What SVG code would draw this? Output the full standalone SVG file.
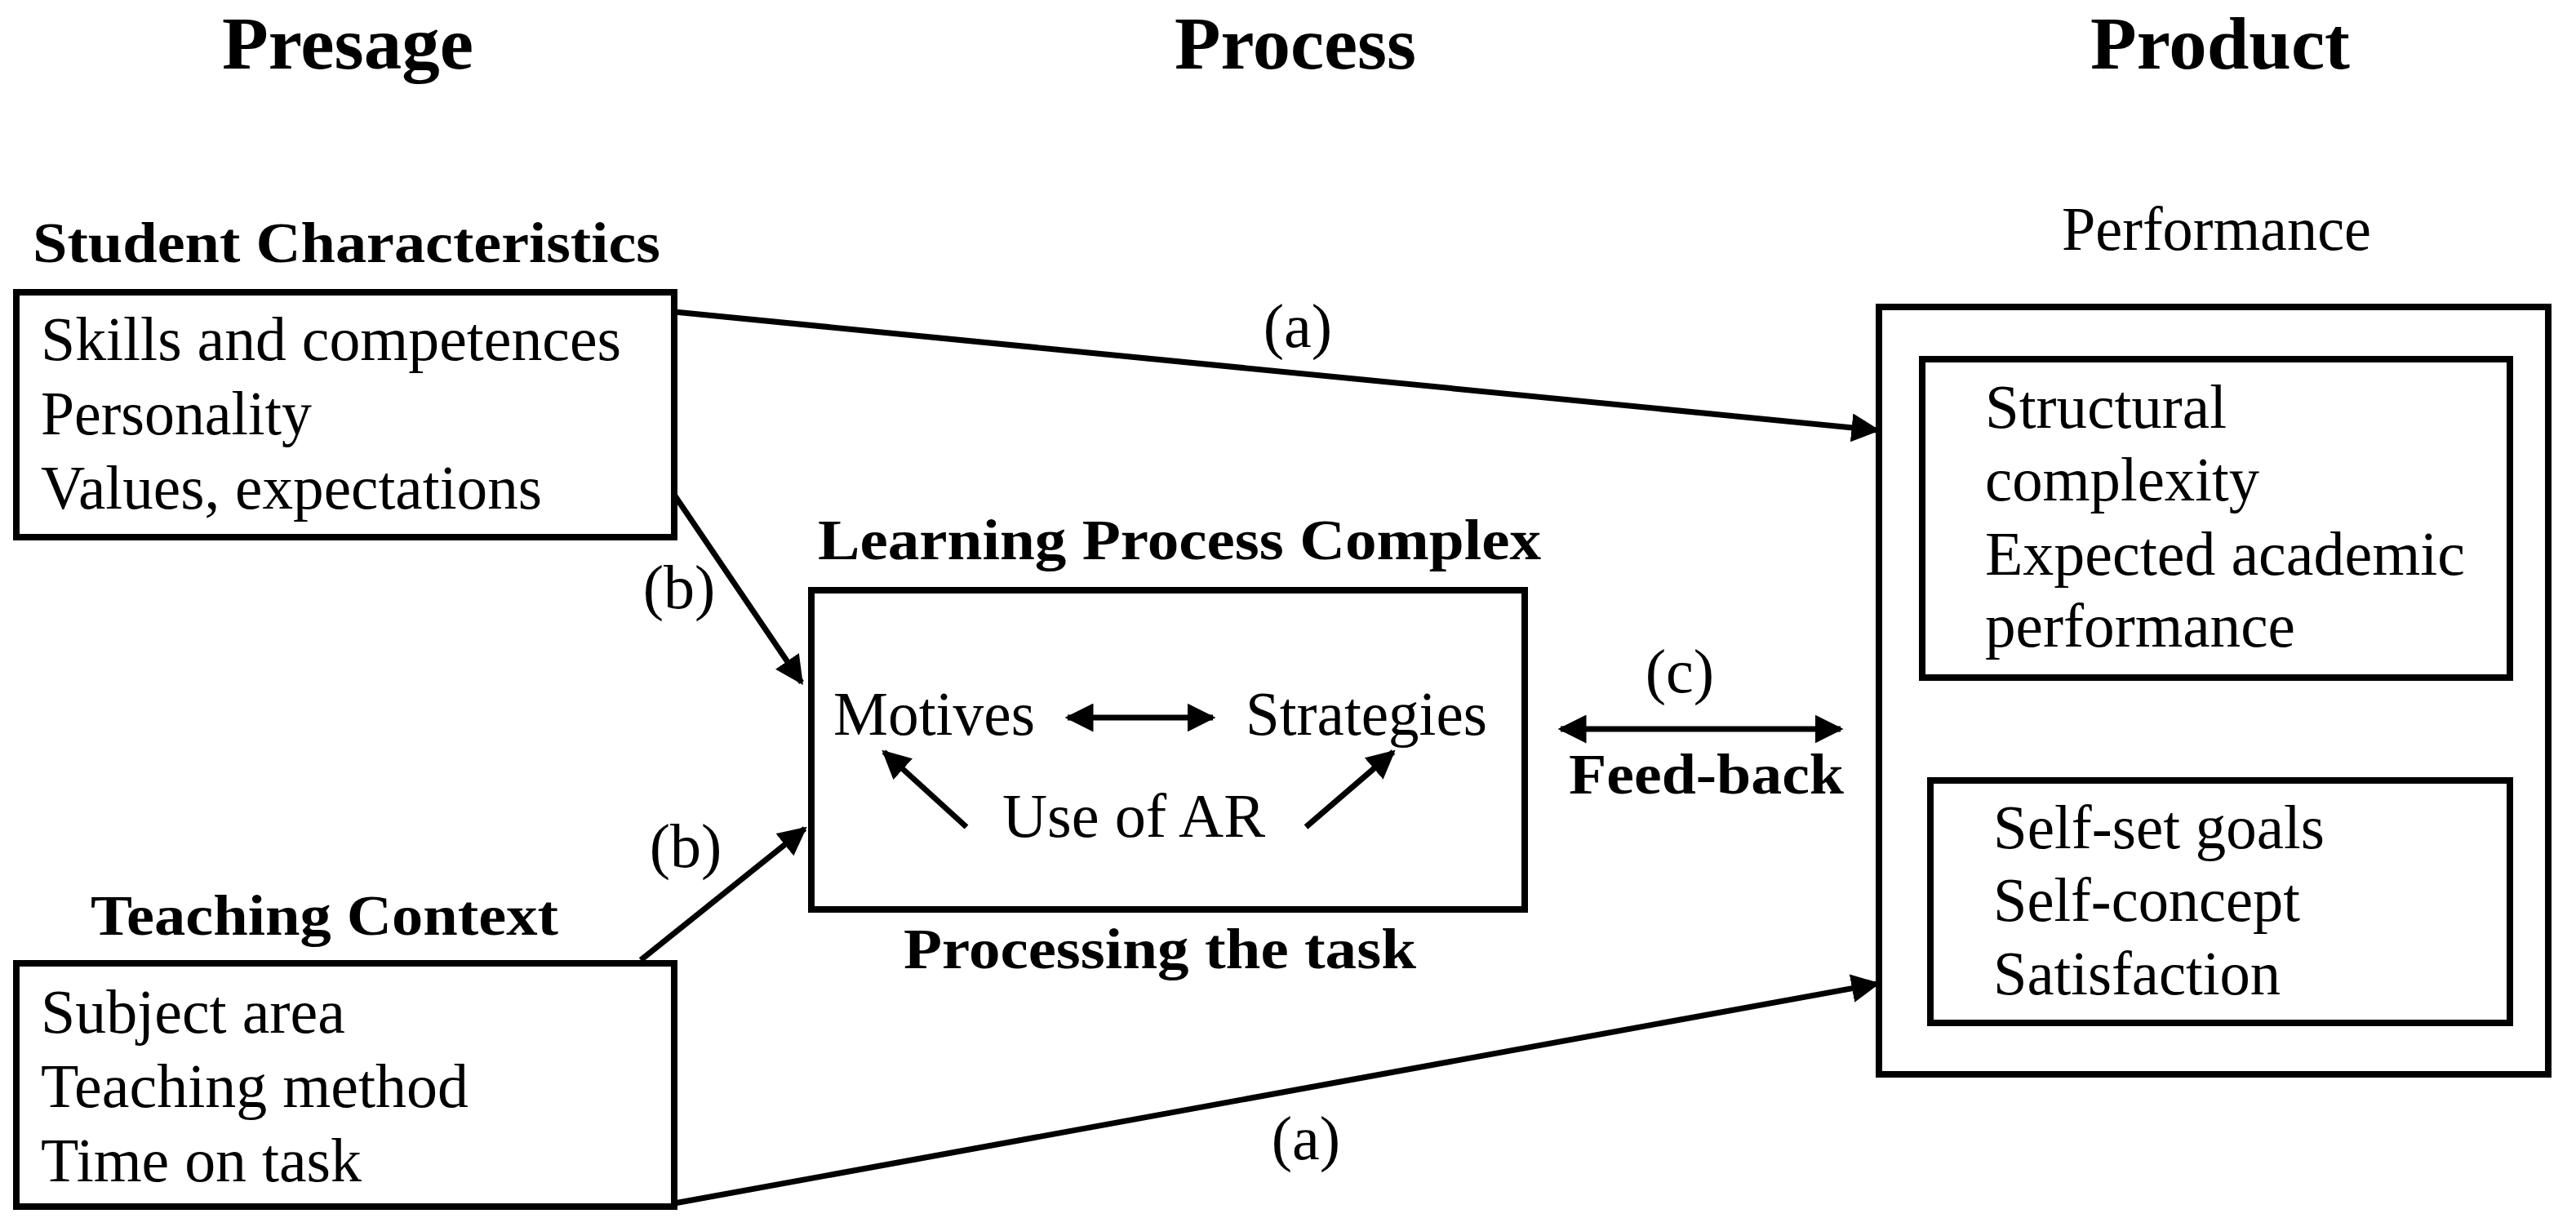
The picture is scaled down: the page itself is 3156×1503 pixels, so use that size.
<svg xmlns="http://www.w3.org/2000/svg" width="3156" height="1503" viewBox="0 0 3156 1503">
<style>
text{font-family:"Liberation Serif","Times New Roman",serif;fill:#000}
.h{font-size:92px;font-weight:bold}
.b{font-size:70px;font-weight:bold}
.t{font-size:76px}
.m{text-anchor:middle}
rect{fill:none;stroke:#000;stroke-width:8}
.c line{stroke:#000;stroke-width:7}
</style>
<defs>
<marker id="a" viewBox="0 0 10 10" refX="9" refY="5" markerWidth="5" markerHeight="5" orient="auto-start-reverse" markerUnits="strokeWidth">
<path d="M0,0 L10,5 L0,10 z" fill="#000"/>
</marker>
</defs>
<text class="h" x="272" y="84" textLength="308" lengthAdjust="spacingAndGlyphs">Presage</text>
<text class="h" x="1439" y="84" textLength="296" lengthAdjust="spacingAndGlyphs">Process</text>
<text class="h" x="2561" y="84" textLength="318" lengthAdjust="spacingAndGlyphs">Product</text>
<g id="student">
<text class="b" x="40" y="321" textLength="769" lengthAdjust="spacingAndGlyphs">Student Characteristics</text>
<rect x="20" y="358" width="806" height="300"/>
<text class="t" x="50" y="441" textLength="711" lengthAdjust="spacingAndGlyphs">Skills and competences</text>
<text class="t" x="50" y="532" textLength="332" lengthAdjust="spacingAndGlyphs">Personality</text>
<text class="t" x="50" y="623" textLength="614" lengthAdjust="spacingAndGlyphs">Values, expectations</text>
</g>
<g id="teaching">
<text class="b" x="111" y="1145" textLength="573" lengthAdjust="spacingAndGlyphs">Teaching Context</text>
<rect x="20" y="1180" width="806" height="298"/>
<text class="t" x="50" y="1265" textLength="373" lengthAdjust="spacingAndGlyphs">Subject area</text>
<text class="t" x="50" y="1356" textLength="524" lengthAdjust="spacingAndGlyphs">Teaching method</text>
<text class="t" x="50" y="1447" textLength="393" lengthAdjust="spacingAndGlyphs">Time on task</text>
</g>
<g id="learning">
<text class="b" x="1002" y="685" textLength="886" lengthAdjust="spacingAndGlyphs">Learning Process Complex</text>
<rect x="994" y="723" width="874" height="391"/>
<text class="t" x="1021" y="900" textLength="247" lengthAdjust="spacingAndGlyphs">Motives</text>
<text class="t" x="1526" y="900" textLength="296" lengthAdjust="spacingAndGlyphs">Strategies</text>
<text class="t" x="1228" y="1025" textLength="322" lengthAdjust="spacingAndGlyphs">Use of AR</text>
<text class="b" x="1107" y="1186" textLength="628" lengthAdjust="spacingAndGlyphs">Processing the task</text>
</g>
<g id="performance">
<text class="t" x="2526" y="306" textLength="379" lengthAdjust="spacingAndGlyphs">Performance</text>
<rect x="2302" y="376" width="820" height="940"/>
<rect x="2355" y="440" width="720" height="390"/>
<text class="t" x="2432" y="524" textLength="296" lengthAdjust="spacingAndGlyphs">Structural</text>
<text class="t" x="2432" y="613" textLength="336" lengthAdjust="spacingAndGlyphs">complexity</text>
<text class="t" x="2432" y="704" textLength="588" lengthAdjust="spacingAndGlyphs">Expected academic</text>
<text class="t" x="2432" y="792" textLength="380" lengthAdjust="spacingAndGlyphs">performance</text>
<rect x="2365" y="956" width="710" height="297"/>
<text class="t" x="2442" y="1039" textLength="406" lengthAdjust="spacingAndGlyphs">Self-set goals</text>
<text class="t" x="2442" y="1128" textLength="376" lengthAdjust="spacingAndGlyphs">Self-concept</text>
<text class="t" x="2442" y="1218" textLength="352" lengthAdjust="spacingAndGlyphs">Satisfaction</text>
</g>
<g class="c" id="connectors">
<line x1="826" y1="382" x2="2300" y2="527" marker-end="url(#a)"/>
<line x1="826" y1="1474" x2="2300" y2="1205" marker-end="url(#a)"/>
<line x1="826" y1="606" x2="982" y2="836" marker-end="url(#a)"/>
<line x1="785" y1="1176" x2="986" y2="1015" marker-end="url(#a)"/>
<line x1="1308" y1="879" x2="1486" y2="879" marker-start="url(#a)" marker-end="url(#a)"/>
<line x1="1184" y1="1013" x2="1083" y2="921" marker-end="url(#a)"/>
<line x1="1600" y1="1013" x2="1707" y2="921" marker-end="url(#a)"/>
<line x1="1912" y1="893" x2="2255" y2="893" marker-start="url(#a)" marker-end="url(#a)"/>
</g>
<text class="t m" x="1590" y="425">(a)</text>
<text class="t m" x="1600" y="1420">(a)</text>
<text class="t m" x="832" y="745">(b)</text>
<text class="t m" x="840" y="1062">(b)</text>
<text class="t m" x="2058" y="848">(c)</text>
<text class="b" x="1922" y="972" textLength="337" lengthAdjust="spacingAndGlyphs">Feed-back</text>
</svg>
